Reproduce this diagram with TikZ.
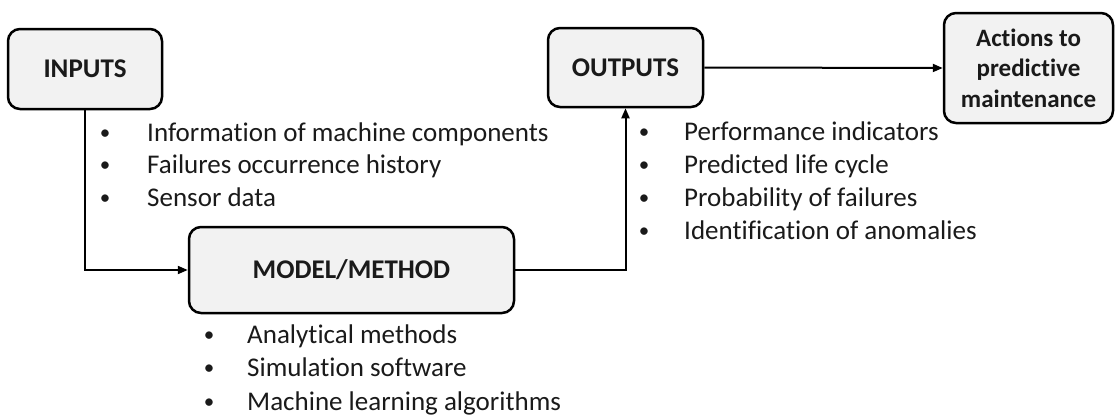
\documentclass[tikz,border=0pt]{standalone}
\usepackage{fontspec}
\setmainfont{Carlito}[Ligatures=NoCommon]
\usetikzlibrary{arrows.meta}
\definecolor{boxfill}{HTML}{F2F2F2}
\definecolor{txt}{HTML}{1A1A1A}
\tikzset{
  box/.style={draw=black, line width=2.5pt, fill=boxfill, rounded corners=12pt, inner sep=0pt, align=center, font=\fontsize{27}{32}\selectfont\bfseries, text=txt},
  conn/.style={line width=2pt, -{Triangle[length=10pt,width=8pt]}},
  bul/.style={anchor=base, inner sep=0pt, font=\fontsize{21}{32}\selectfont, text=txt},
  item/.style={anchor=base west, inner sep=0pt, font=\fontsize{27}{32}\selectfont, text=txt},
}
\begin{document}
\begin{tikzpicture}[x=1pt,y=-1pt]
\useasboundingbox (0,0) rectangle (1116,418);
% boxes
\node[box, minimum width=154pt, minimum height=80pt] (inputs) at (85,69) {INPUTS};
\node[box, minimum width=325pt, minimum height=86pt] (model) at (351.5,270) {MODEL/METHOD};
\node[box, minimum width=155pt, minimum height=79pt] (outputs) at (625.5,67.5) {OUTPUTS};
\node[box, minimum width=169pt, minimum height=110pt, font=\fontsize{25}{30.5}\selectfont\bfseries] (actions) at (1028.5,68) {Actions to\\predictive\\maintenance};
% connectors
\draw[conn] (inputs.south) |- (model.west);
\draw[conn] (model.east) -| (outputs.south);
\draw[conn] (outputs.east) -- (actions.west);
% input items
\node[bul] (ib1) at (105,139) {•};
\node[item] (it1) at (147,141) {Information of machine components};
\node[bul] (ib2) at (105,171) {•};
\node[item] (it2) at (147,173) {Failures occurrence history};
\node[bul] (ib3) at (105,204) {•};
\node[item] (it3) at (147,206) {Sensor data};
% model items
\node[bul] (mb1) at (209,341) {•};
\node[item] (mt1) at (247,343) {Analytical methods};
\node[bul] (mb2) at (209,374) {•};
\node[item] (mt2) at (247,376) {Simulation software};
\node[bul] (mb3) at (209,408) {•};
\node[item] (mt3) at (247,410) {Machine learning algorithms};
% output items
\node[bul] (ob1) at (644,138) {•};
\node[item] (ot1) at (684,140) {Performance indicators};
\node[bul] (ob2) at (644,171) {•};
\node[item] (ot2) at (684,173) {Predicted life cycle};
\node[bul] (ob3) at (644,204) {•};
\node[item] (ot3) at (684,206) {Probability of failures};
\node[bul] (ob4) at (644,237) {•};
\node[item] (ot4) at (684,239) {Identification of anomalies};
\end{tikzpicture}
\end{document}
